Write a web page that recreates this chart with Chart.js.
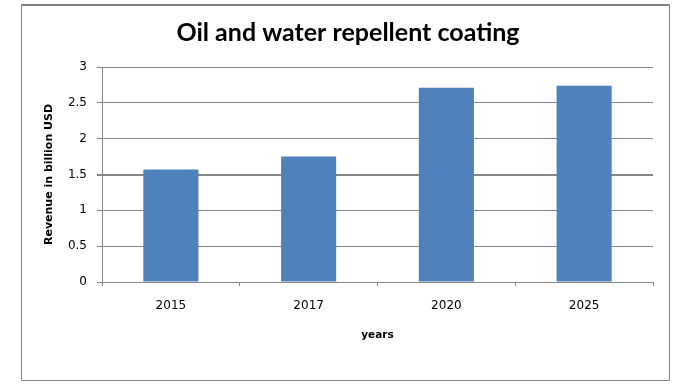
<!DOCTYPE html>
<html>
<head>
<meta charset="utf-8">
<script src="https://cdn.jsdelivr.net/npm/chart.js@4/dist/chart.umd.min.js"></script>
<style>
  html, body { margin: 0; padding: 0; background: #fff; }
  #wrap { width: 675px; height: 386px; }
</style>
</head>
<body>
<div id="wrap"><canvas id="myChart" width="675" height="386"></canvas></div>
<script>
const years = ['2015', '2017', '2020', '2025'];
const revenue = [1.57, 1.75, 2.71, 2.74];
const yTicks = [0, 0.5, 1, 1.5, 2, 2.5, 3];

const gridGray = '#868686';

// white background and the grey frame round the whole chart
const framePlugin = {
  id: 'frame',
  beforeDraw(chart) {
    const c = chart.ctx;
    c.save();
    c.fillStyle = '#fff';
    c.fillRect(0, 0, chart.width, chart.height);
    c.strokeStyle = '#828282';
    c.lineWidth = 1;
    c.beginPath();
    c.moveTo(21.5, 5);
    c.lineTo(21.5, 380.5);
    c.lineTo(669.5, 380.5);
    c.lineTo(669.5, 5);
    c.stroke();
    c.lineWidth = 2;
    c.beginPath();
    c.moveTo(21, 5);
    c.lineTo(670, 5);
    c.stroke();
    c.restore();
  }
};

const ctx = document.getElementById('myChart');

new Chart(ctx, {
  type: 'bar',
  data: {
    labels: years,
    datasets: [{
      label: 'Revenue',
      data: revenue,
      backgroundColor: '#4F81BD',
      borderWidth: 0,
      barPercentage: 0.4,
      categoryPercentage: 1
    }]
  },
  plugins: [framePlugin],
  options: {
    responsive: false,
    animation: false,
    layout: {
      padding: { left: 43, right: 22, top: 0, bottom: 0 }
    },
    plugins: {
      legend: { display: false },
      tooltip: { enabled: false },
      title: {
        display: true,
        text: 'Oil and water repellent coating',
        color: '#000',
        font: { family: 'Lato', size: 25, weight: 'bold' },
        padding: { top: 18, bottom: 19 }
      }
    },
    scales: {
      x: {
        grid: {
          display: true,
          drawOnChartArea: false,
          drawTicks: true,
          tickLength: 4,
          color: gridGray,
          offset: true
        },
        border: { color: gridGray },
        ticks: {
          color: '#000',
          font: { family: 'DejaVu Sans', size: 12 },
          padding: 13,
          maxRotation: 0
        },
        title: {
          display: true,
          text: 'years',
          color: '#000',
          font: { family: 'DejaVu Sans', size: 10.5, weight: 'bold' },
          padding: { top: 0, bottom: 44 }
        },
        afterFit(scale) { scale.height = 104; }
      },
      y: {
        min: 0,
        max: 3,
        afterBuildTicks(scale) {
          scale.ticks = yTicks.map(v => ({ value: v }));
        },
        grid: {
          color: gridGray,
          lineWidth: c => (c.tick && c.tick.value === 1.5 ? 2 : 1),
          tickLength: 5
        },
        border: { color: gridGray },
        ticks: {
          color: '#000',
          font: { family: 'DejaVu Sans', size: 12 },
          padding: 10,
          callback: v => String(v)
        },
        title: {
          display: true,
          text: 'Revenue in billion USD',
          color: '#000',
          font: { family: 'DejaVu Sans', size: 11, weight: 'bold' },
          padding: 0
        },
        afterFit(scale) { scale.width = 59; }
      }
    }
  }
});
</script>
</body>
</html>
